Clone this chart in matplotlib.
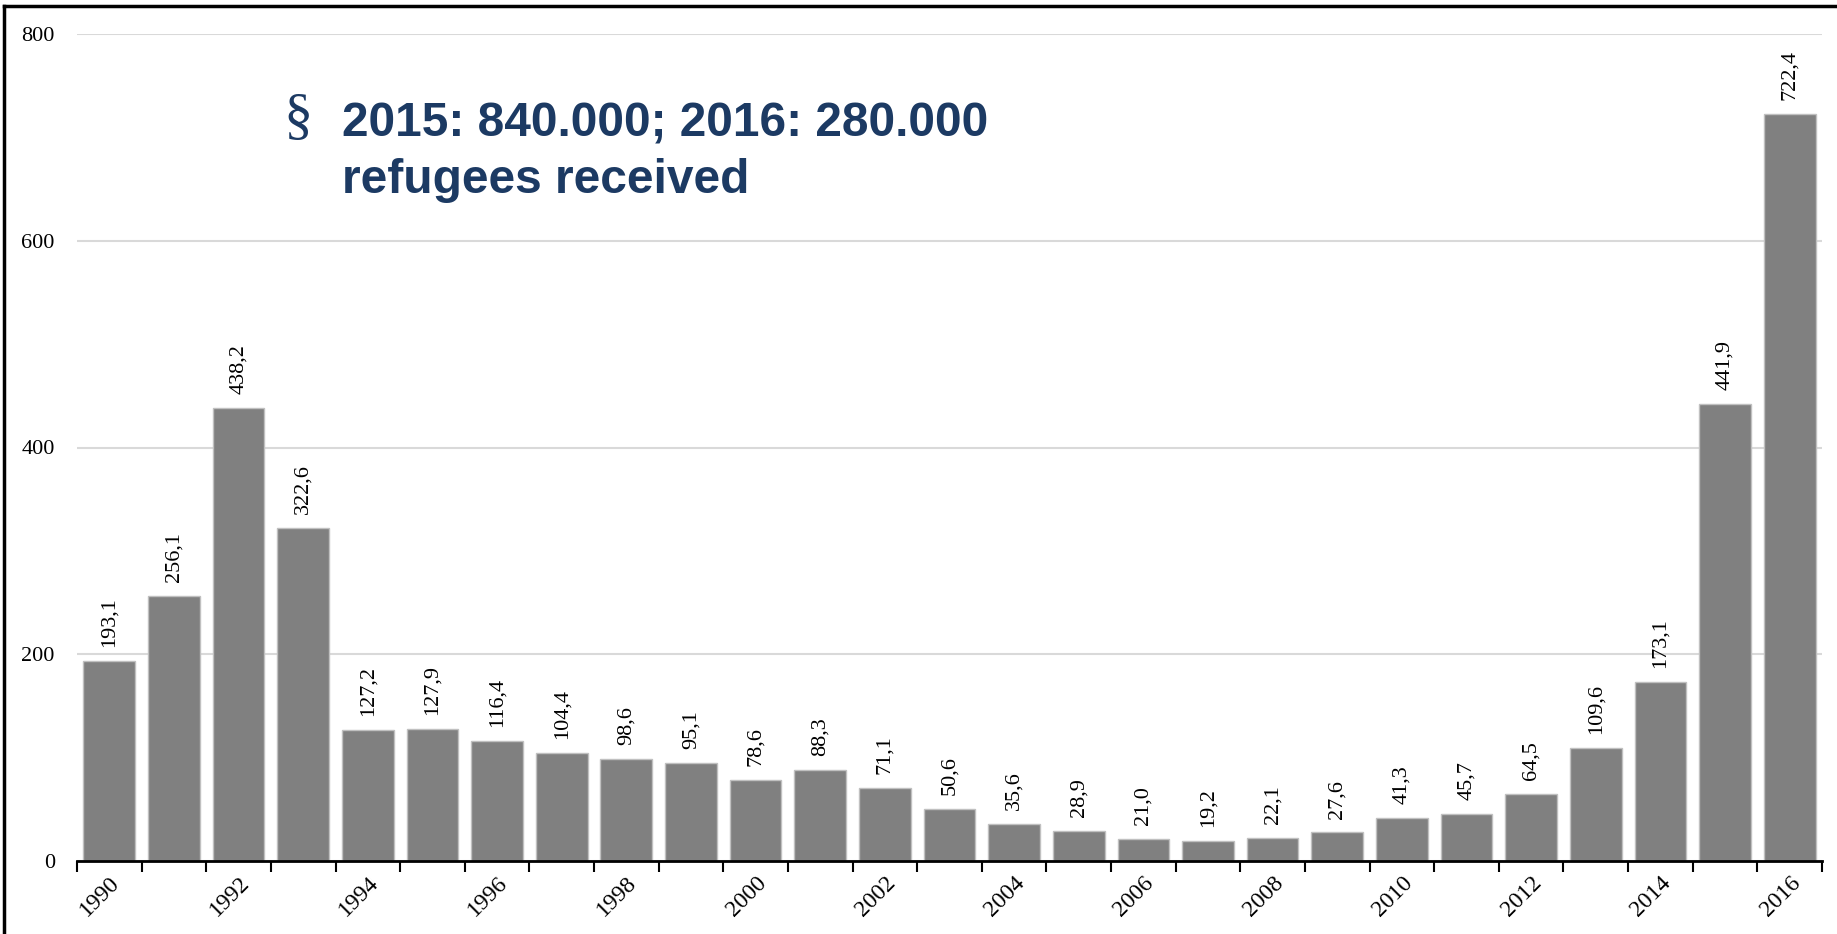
import matplotlib
matplotlib.use("Agg")
from matplotlib import pyplot as plt
from matplotlib.lines import Line2D
import numpy as np

years = list(range(1990, 2017))
values = [193.1, 256.1, 438.2, 322.6, 127.2, 127.9, 116.4, 104.4, 98.6, 95.1,
          78.6, 88.3, 71.1, 50.6, 35.6, 28.9, 21.0, 19.2, 22.1, 27.6,
          41.3, 45.7, 64.5, 109.6, 173.1, 441.9, 722.4]
y_ticks = [0, 200, 400, 600, 800]
note_line1 = "2015: 840.000; 2016: 280.000"
note_line2 = "refugees received"

W, H = 1837, 934
fig = plt.figure(figsize=(W / 100, H / 100), dpi=100)
ax = fig.add_axes([77 / W, 73 / H, (1822 - 77) / W, (900 - 73) / H])

serif = "Liberation Serif"
navy = "#1c3a63"

x = np.arange(len(years))
bars = ax.bar(x, values, width=0.8, color="#808080", edgecolor="#c0c0c0", linewidth=1, zorder=3)

for xi, v in zip(x, values):
    ax.annotate(f"{v:.1f}".replace(".", ","), (xi, v), xytext=(0, 10),
                textcoords="offset points", rotation=90, ha="center", va="bottom",
                fontsize=16, family=serif, color="black")

ax.set_xlim(-0.5, len(years) - 0.5)
ax.set_ylim(0, 800)
ax.set_yticks(y_ticks)
ax.set_yticklabels([str(t) for t in y_ticks], fontsize=16, family=serif)
ax.tick_params(axis="y", length=0, pad=16)
ax.grid(axis="y", color="#d9d9d9", linewidth=1.5, zorder=0)
ax.set_axisbelow(True)

for s in ["left", "right", "top"]:
    ax.spines[s].set_visible(False)
ax.spines["bottom"].set_linewidth(2)
ax.spines["bottom"].set_zorder(4)

# ticks between the bars, labels every other year
ax.set_xticks(np.arange(-0.5, len(years)), minor=True)
ax.tick_params(axis="x", which="minor", length=8, width=1.5, direction="out")
major = x[::2]
ax.set_xticks(major)
ax.set_xticklabels([str(years[i]) for i in major], rotation=45, ha="right",
                   rotation_mode="anchor", fontsize=17, family=serif)
ax.tick_params(axis="x", which="major", length=0, pad=8)

# note text
fig.text(283 / W, 1 - 133 / H, "\u00a7", fontsize=42, family=serif, color=navy, va="baseline")
fig.text(342 / W, 1 - 137 / H, note_line1, fontsize=34.5, family="Liberation Sans",
         weight="bold", color=navy, va="baseline")
fig.text(342 / W, 1 - 193 / H, note_line2, fontsize=34.5, family="Liberation Sans",
         weight="bold", color=navy, va="baseline")

# frame on the left and top of the figure
for xs, ys in [([4, 4], [6, 934]), ([4, 1837], [6, 6])]:
    fig.add_artist(Line2D([v / W for v in xs], [1 - v / H for v in ys],
                          transform=fig.transFigure, color="black", linewidth=2.5))

fig.savefig("out.png", dpi=100)
